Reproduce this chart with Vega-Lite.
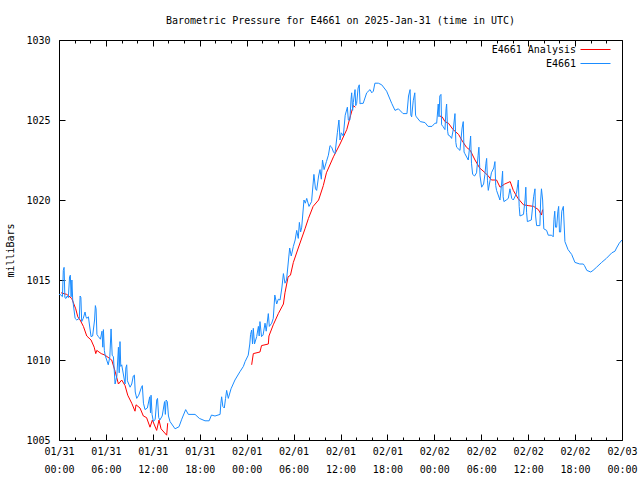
{
  "$schema": "https://vega.github.io/schema/vega-lite/v6.json",
  "width": 563,
  "height": 400,
  "autosize": "none",
  "padding": {"left": 59, "top": 40, "right": 18, "bottom": 40},
  "background": "white",
  "title": {"text": "Barometric Pressure for E4661 on 2025-Jan-31 (time in UTC)", "font": "DejaVu Sans Mono", "fontSize": 10, "fontWeight": "normal", "color": "black", "offset": 9},
  "config": {
    "view": {"stroke": "black", "strokeWidth": 1},
    "axis": {"labelFont": "DejaVu Sans Mono", "labelFontSize": 10, "labelColor": "black", "titleFont": "DejaVu Sans Mono", "titleFontSize": 10, "titleFontWeight": "normal", "titleColor": "black", "ticks": true, "tickColor": "black", "tickWidth": 1, "tickOpacity": 1, "domain": false, "grid": false},
    "legend": {"orient": "none", "legendX": 531, "legendY": 4, "title": null, "labelFont": "DejaVu Sans Mono", "labelFontSize": 10, "labelColor": "black", "symbolType": "M-3,0H3", "symbolSize": 100, "symbolStrokeWidth": 1, "labelAlign": "right", "labelOffset": -25, "rowPadding": 3, "padding": 0}
  },
  "datasets": {
    "obs": [
      {"h":0.0,"p":1014.1},{"h":0.14,"p":1014.1},{"h":0.44,"p":1013.96},{"h":0.55,"p":1015.6},{"h":0.65,"p":1015.79},{"h":0.75,"p":1013.9},{"h":0.9,"p":1013.85},{"h":1.05,"p":1014.0},{"h":1.2,"p":1013.9},{"h":1.35,"p":1015.2},{"h":1.45,"p":1015.3},{"h":1.55,"p":1013.95},{"h":1.65,"p":1015.0},{"h":1.75,"p":1013.8},{"h":2.06,"p":1012.6},{"h":2.27,"p":1012.5},{"h":2.6,"p":1012.6},{"h":2.7,"p":1014.0},{"h":2.8,"p":1013.9},{"h":2.9,"p":1012.4},{"h":3.1,"p":1012.6},{"h":3.33,"p":1013.0},{"h":3.45,"p":1012.7},{"h":3.55,"p":1012.6},{"h":3.76,"p":1012.7},{"h":4.1,"p":1011.46},{"h":4.3,"p":1011.5},{"h":4.55,"p":1012.5},{"h":4.65,"p":1013.4},{"h":4.74,"p":1013.2},{"h":4.85,"p":1011.6},{"h":5.04,"p":1011.46},{"h":5.3,"p":1011.3},{"h":5.5,"p":1011.8},{"h":5.6,"p":1010.8},{"h":5.68,"p":1011.9},{"h":5.8,"p":1010.6},{"h":5.9,"p":1010.3},{"h":6.3,"p":1009.7},{"h":6.5,"p":1010.2},{"h":6.66,"p":1011.94},{"h":6.8,"p":1010.3},{"h":6.96,"p":1010.2},{"h":7.17,"p":1008.5},{"h":7.4,"p":1009.0},{"h":7.6,"p":1010.8},{"h":7.7,"p":1009.2},{"h":7.8,"p":1011.15},{"h":7.9,"p":1009.6},{"h":8.02,"p":1009.7},{"h":8.45,"p":1008.5},{"h":8.55,"p":1009.5},{"h":8.66,"p":1009.7},{"h":8.75,"p":1008.7},{"h":9.09,"p":1008.3},{"h":9.3,"p":1008.5},{"h":9.5,"p":1009.0},{"h":9.64,"p":1009.06},{"h":9.75,"p":1008.0},{"h":9.94,"p":1007.6},{"h":10.2,"p":1007.8},{"h":10.55,"p":1008.3},{"h":10.66,"p":1008.4},{"h":10.8,"p":1007.3},{"h":11.0,"p":1006.9},{"h":11.3,"p":1007.0},{"h":11.6,"p":1007.7},{"h":11.7,"p":1006.7},{"h":11.77,"p":1007.8},{"h":11.9,"p":1006.6},{"h":12.07,"p":1006.15},{"h":12.3,"p":1006.3},{"h":12.5,"p":1007.5},{"h":12.6,"p":1007.6},{"h":12.75,"p":1006.4},{"h":12.9,"p":1006.25},{"h":13.2,"p":1006.5},{"h":13.5,"p":1007.4},{"h":13.6,"p":1006.6},{"h":13.7,"p":1007.5},{"h":13.85,"p":1007.4},{"h":14.0,"p":1006.5},{"h":14.2,"p":1006.15},{"h":14.84,"p":1005.7},{"h":15.35,"p":1005.83},{"h":15.7,"p":1006.3},{"h":16.2,"p":1006.9},{"h":16.54,"p":1006.6},{"h":17.4,"p":1006.6},{"h":17.95,"p":1006.35},{"h":18.67,"p":1006.2},{"h":19.2,"p":1006.2},{"h":19.5,"p":1006.56},{"h":19.95,"p":1006.5},{"h":20.6,"p":1006.6},{"h":20.7,"p":1007.3},{"h":20.8,"p":1007.7},{"h":20.95,"p":1007.1},{"h":21.14,"p":1007.0},{"h":21.3,"p":1007.6},{"h":21.44,"p":1008.1},{"h":21.65,"p":1007.6},{"h":22.0,"p":1008.2},{"h":22.5,"p":1008.75},{"h":23.14,"p":1009.27},{"h":23.58,"p":1009.6},{"h":23.8,"p":1009.9},{"h":24.2,"p":1010.3},{"h":24.4,"p":1011.0},{"h":24.5,"p":1011.6},{"h":24.64,"p":1011.87},{"h":24.75,"p":1011.0},{"h":24.85,"p":1011.98},{"h":25.0,"p":1011.0},{"h":25.28,"p":1011.46},{"h":25.5,"p":1012.1},{"h":25.6,"p":1011.5},{"h":25.7,"p":1012.4},{"h":25.9,"p":1011.46},{"h":26.1,"p":1011.56},{"h":26.35,"p":1012.3},{"h":26.5,"p":1011.8},{"h":26.77,"p":1012.9},{"h":26.9,"p":1012.1},{"h":27.2,"p":1012.3},{"h":27.4,"p":1012.6},{"h":27.6,"p":1014.06},{"h":27.84,"p":1013.5},{"h":28.05,"p":1013.8},{"h":28.27,"p":1013.75},{"h":28.5,"p":1014.5},{"h":28.7,"p":1015.4},{"h":28.9,"p":1014.8},{"h":29.1,"p":1015.0},{"h":29.5,"p":1017.0},{"h":29.7,"p":1016.5},{"h":29.97,"p":1017.1},{"h":30.2,"p":1017.5},{"h":30.4,"p":1018.1},{"h":30.6,"p":1017.6},{"h":30.74,"p":1018.6},{"h":30.9,"p":1018.0},{"h":31.04,"p":1018.3},{"h":31.33,"p":1020.0},{"h":31.5,"p":1019.8},{"h":31.68,"p":1020.1},{"h":31.97,"p":1019.6},{"h":32.3,"p":1019.9},{"h":32.6,"p":1021.6},{"h":32.8,"p":1020.7},{"h":32.95,"p":1020.6},{"h":33.2,"p":1021.5},{"h":33.38,"p":1021.9},{"h":33.55,"p":1021.3},{"h":33.7,"p":1022.5},{"h":33.9,"p":1021.9},{"h":34.2,"p":1022.4},{"h":34.45,"p":1022.8},{"h":34.66,"p":1023.4},{"h":34.87,"p":1023.3},{"h":35.1,"p":1023.0},{"h":35.3,"p":1022.9},{"h":35.6,"p":1024.2},{"h":35.8,"p":1025.0},{"h":35.94,"p":1023.75},{"h":36.1,"p":1024.2},{"h":36.36,"p":1024.0},{"h":36.6,"p":1025.3},{"h":36.88,"p":1025.8},{"h":37.0,"p":1025.0},{"h":37.2,"p":1025.0},{"h":37.35,"p":1026.3},{"h":37.43,"p":1026.7},{"h":37.55,"p":1025.6},{"h":37.64,"p":1026.1},{"h":37.86,"p":1026.9},{"h":37.95,"p":1025.9},{"h":38.07,"p":1026.04},{"h":38.25,"p":1027.0},{"h":38.4,"p":1027.2},{"h":38.5,"p":1026.0},{"h":38.6,"p":1026.04},{"h":38.9,"p":1026.04},{"h":39.35,"p":1026.7},{"h":39.78,"p":1026.9},{"h":40.0,"p":1026.7},{"h":40.2,"p":1026.8},{"h":40.4,"p":1027.3},{"h":40.84,"p":1027.3},{"h":41.27,"p":1027.2},{"h":41.9,"p":1026.8},{"h":42.55,"p":1026.04},{"h":42.97,"p":1025.6},{"h":43.4,"p":1025.7},{"h":44.0,"p":1025.4},{"h":44.5,"p":1025.4},{"h":44.7,"p":1026.5},{"h":44.9,"p":1026.9},{"h":45.0,"p":1025.3},{"h":45.1,"p":1025.2},{"h":45.3,"p":1026.2},{"h":45.5,"p":1026.7},{"h":45.6,"p":1025.3},{"h":45.7,"p":1025.2},{"h":46.2,"p":1024.9},{"h":46.8,"p":1024.84},{"h":47.2,"p":1024.6},{"h":47.7,"p":1024.6},{"h":48.08,"p":1024.8},{"h":48.3,"p":1024.8},{"h":48.5,"p":1026.0},{"h":48.6,"p":1025.2},{"h":48.7,"p":1026.5},{"h":48.85,"p":1026.6},{"h":48.93,"p":1024.7},{"h":49.1,"p":1024.6},{"h":49.36,"p":1024.4},{"h":49.5,"p":1025.7},{"h":49.57,"p":1026.0},{"h":49.7,"p":1024.3},{"h":49.78,"p":1024.06},{"h":50.0,"p":1024.0},{"h":50.21,"p":1023.85},{"h":50.42,"p":1024.4},{"h":50.55,"p":1025.0},{"h":50.64,"p":1025.4},{"h":50.75,"p":1023.6},{"h":50.85,"p":1023.3},{"h":51.28,"p":1023.1},{"h":51.55,"p":1024.5},{"h":51.7,"p":1024.9},{"h":51.8,"p":1023.0},{"h":51.9,"p":1022.9},{"h":52.34,"p":1022.5},{"h":52.55,"p":1023.5},{"h":52.64,"p":1024.0},{"h":52.75,"p":1022.3},{"h":52.9,"p":1021.6},{"h":53.15,"p":1021.5},{"h":53.4,"p":1021.7},{"h":53.6,"p":1022.8},{"h":53.7,"p":1023.3},{"h":53.85,"p":1021.5},{"h":54.05,"p":1020.8},{"h":54.3,"p":1021.0},{"h":54.47,"p":1021.6},{"h":54.6,"p":1022.3},{"h":54.69,"p":1022.6},{"h":54.8,"p":1021.2},{"h":54.9,"p":1020.6},{"h":55.3,"p":1021.7},{"h":55.6,"p":1022.0},{"h":55.75,"p":1022.4},{"h":55.85,"p":1020.9},{"h":55.96,"p":1020.6},{"h":56.39,"p":1020.0},{"h":56.6,"p":1021.0},{"h":56.73,"p":1021.8},{"h":56.8,"p":1020.2},{"h":56.9,"p":1019.9},{"h":57.2,"p":1020.0},{"h":57.46,"p":1020.1},{"h":57.67,"p":1020.7},{"h":57.9,"p":1020.1},{"h":58.1,"p":1020.0},{"h":58.5,"p":1020.4},{"h":58.74,"p":1021.25},{"h":58.85,"p":1019.6},{"h":58.95,"p":1019.0},{"h":59.4,"p":1019.1},{"h":59.6,"p":1020.0},{"h":59.7,"p":1020.8},{"h":59.8,"p":1019.2},{"h":59.9,"p":1018.65},{"h":60.4,"p":1018.75},{"h":60.7,"p":1020.2},{"h":60.87,"p":1020.7},{"h":60.95,"p":1019.0},{"h":61.08,"p":1018.4},{"h":61.5,"p":1018.4},{"h":61.6,"p":1020.0},{"h":61.7,"p":1020.7},{"h":61.85,"p":1020.0},{"h":62.0,"p":1018.2},{"h":62.36,"p":1018.1},{"h":62.57,"p":1017.8},{"h":63.0,"p":1017.8},{"h":63.2,"p":1017.7},{"h":63.3,"p":1018.8},{"h":63.4,"p":1019.3},{"h":63.5,"p":1018.3},{"h":63.64,"p":1018.3},{"h":63.8,"p":1019.3},{"h":63.9,"p":1019.6},{"h":64.0,"p":1018.0},{"h":64.15,"p":1018.0},{"h":64.3,"p":1019.3},{"h":64.5,"p":1019.6},{"h":64.6,"p":1018.5},{"h":64.7,"p":1017.4},{"h":65.1,"p":1016.9},{"h":65.56,"p":1016.6},{"h":65.98,"p":1016.1},{"h":66.6,"p":1016.0},{"h":67.05,"p":1016.0},{"h":67.2,"p":1015.9},{"h":67.5,"p":1015.6},{"h":68.0,"p":1015.5},{"h":68.3,"p":1015.6},{"h":68.75,"p":1015.8},{"h":69.4,"p":1016.1},{"h":70.0,"p":1016.35},{"h":70.7,"p":1016.7},{"h":71.1,"p":1016.8},{"h":71.3,"p":1017.0},{"h":71.65,"p":1017.3},{"h":72.0,"p":1017.5}
    ],
    "ana": [
      {"g":1,"h":0.27,"p":1014.2},{"g":1,"h":0.99,"p":1014.1},{"g":1,"h":1.63,"p":1013.85},{"g":1,"h":1.9,"p":1013.5},{"g":1,"h":2.14,"p":1013.2},{"g":1,"h":2.4,"p":1012.7},{"g":1,"h":2.7,"p":1012.5},{"g":1,"h":3.12,"p":1012.1},{"g":1,"h":3.55,"p":1011.5},{"g":1,"h":4.1,"p":1011.25},{"g":1,"h":4.5,"p":1010.8},{"g":1,"h":4.7,"p":1010.4},{"g":1,"h":4.83,"p":1010.6},{"g":1,"h":5.4,"p":1010.4},{"g":1,"h":5.9,"p":1010.3},{"g":1,"h":6.74,"p":1010.0},{"g":1,"h":7.17,"p":1009.3},{"g":1,"h":7.6,"p":1008.5},{"g":1,"h":8.02,"p":1008.75},{"g":1,"h":8.45,"p":1008.4},{"g":1,"h":8.79,"p":1007.8},{"g":1,"h":9.3,"p":1007.3},{"g":1,"h":9.72,"p":1006.8},{"g":1,"h":9.85,"p":1007.2},{"g":1,"h":10.36,"p":1007.0},{"g":1,"h":10.79,"p":1006.5},{"g":1,"h":11.2,"p":1006.4},{"g":1,"h":11.64,"p":1005.8},{"g":1,"h":11.94,"p":1006.25},{"g":1,"h":12.49,"p":1005.6},{"g":1,"h":12.79,"p":1006.25},{"g":1,"h":13.05,"p":1005.7},{"g":1,"h":13.77,"p":1005.3},{"g":1,"h":13.9,"p":1006.05},
      {"g":2,"h":24.64,"p":1009.7},{"g":2,"h":24.85,"p":1010.4},{"g":2,"h":25.7,"p":1010.5},{"g":2,"h":25.9,"p":1010.9},{"g":2,"h":26.77,"p":1011.0},{"g":2,"h":26.85,"p":1011.5},{"g":2,"h":27.4,"p":1012.2},{"g":2,"h":28.05,"p":1012.9},{"g":2,"h":28.7,"p":1013.5},{"g":2,"h":28.9,"p":1014.2},{"g":2,"h":29.3,"p":1015.2},{"g":2,"h":29.6,"p":1015.3},{"g":2,"h":29.97,"p":1016.1},{"g":2,"h":30.6,"p":1017.0},{"g":2,"h":31.46,"p":1018.2},{"g":2,"h":31.9,"p":1018.85},{"g":2,"h":32.5,"p":1019.6},{"g":2,"h":33.2,"p":1020.0},{"g":2,"h":33.8,"p":1020.9},{"g":2,"h":34.2,"p":1021.7},{"g":2,"h":35.1,"p":1022.7},{"g":2,"h":35.94,"p":1023.5},{"g":2,"h":36.8,"p":1024.4},{"g":2,"h":37.3,"p":1025.3},{"g":2,"h":37.64,"p":1025.9},{"g":2,"h":37.9,"p":1025.8},
      {"g":3,"h":48.7,"p":1025.25},{"g":3,"h":49.0,"p":1025.2},{"g":3,"h":49.36,"p":1024.9},{"g":3,"h":49.8,"p":1024.8},{"g":3,"h":50.4,"p":1024.4},{"g":3,"h":51.1,"p":1024.1},{"g":3,"h":51.5,"p":1023.75},{"g":3,"h":52.1,"p":1023.3},{"g":3,"h":52.6,"p":1023.1},{"g":3,"h":53.2,"p":1022.5},{"g":3,"h":53.8,"p":1022.0},{"g":3,"h":54.5,"p":1021.7},{"g":3,"h":54.9,"p":1021.5},{"g":3,"h":55.3,"p":1021.25},{"g":3,"h":55.96,"p":1021.25},{"g":3,"h":56.4,"p":1020.8},{"g":3,"h":57.0,"p":1021.0},{"g":3,"h":57.7,"p":1021.15},{"g":3,"h":58.1,"p":1020.6},{"g":3,"h":58.7,"p":1020.1},{"g":3,"h":59.4,"p":1019.7},{"g":3,"h":60.0,"p":1019.65},{"g":3,"h":60.7,"p":1019.6},{"g":3,"h":61.3,"p":1019.4},{"g":3,"h":61.7,"p":1019.06},{"g":3,"h":61.85,"p":1019.4}
    ]
  },
  "layer": [
    {
      "data": {"name": "ana"},
      "mark": {"type": "line", "strokeWidth": 1},
      "encoding": {
        "x": {"field": "h", "type": "quantitative", "scale": {"domain": [0, 72], "nice": false, "zero": false},
              "axis": {"orient": "top", "title": null, "labels": false, "values": [0,6,12,18,24,30,36,42,48,54,60,66,72], "tickSize": 6, "offset": -6}},
        "y": {"field": "p", "type": "quantitative", "scale": {"domain": [1005, 1030], "nice": false, "zero": false},
              "axis": {"orient": "right", "title": null, "labels": false, "values": [1005,1010,1015,1020,1025,1030], "tickSize": 6, "offset": -6}},
        "color": {"datum": "E4661 Analysis", "type": "nominal", "scale": {"domain": ["E4661 Analysis", "E4661"], "range": ["#ff0000", "#1a8cff"]}},
        "detail": {"field": "g", "type": "nominal"}
      }
    },
    {
      "data": {"name": "obs"},
      "mark": {"type": "line", "strokeWidth": 1},
      "encoding": {
        "x": {"field": "h", "type": "quantitative",
              "axis": {"orient": "bottom", "title": null, "values": [0,6,12,18,24,30,36,42,48,54,60,66,72], "tickSize": 6, "offset": -6,
                       "labelPadding": 6, "labelLineHeight": 18, "labelBaseline": "top", "labelFlush": false, "labelOverlap": false,
                       "labelExpr": "[['01/31','02/01','02/02','02/03'][floor(datum.value / 24)], (datum.value % 24 < 10 ? '0' : '') + (datum.value % 24) + ':00']"}},
        "y": {"field": "p", "type": "quantitative",
              "axis": {"orient": "left", "title": "milliBars", "format": "d", "values": [1005,1010,1015,1020,1025,1030], "tickSize": 6, "offset": -6, "labelPadding": 9, "titlePadding": 10, "titleY": 210}},
        "color": {"datum": "E4661", "type": "nominal"}
      }
    },
    {
      "data": {"name": "obs"},
      "mark": {"type": "line", "opacity": 0},
      "encoding": {
        "x": {"field": "h", "type": "quantitative",
              "axis": {"orient": "bottom", "title": null, "labels": false, "values": [2,4,8,10,14,16,20,22,26,28,32,34,38,40,44,46,50,52,56,58,62,64,68,70], "tickSize": 3, "offset": -3}},
        "y": {"field": "p", "type": "quantitative", "axis": null}
      }
    },
    {
      "data": {"name": "obs"},
      "mark": {"type": "line", "opacity": 0},
      "encoding": {
        "x": {"field": "h", "type": "quantitative",
              "axis": {"orient": "top", "title": null, "labels": false, "values": [2,4,8,10,14,16,20,22,26,28,32,34,38,40,44,46,50,52,56,58,62,64,68,70], "tickSize": 3, "offset": -3}},
        "y": {"field": "p", "type": "quantitative", "axis": null}
      }
    }
  ],
  "resolve": {"axis": {"x": "independent", "y": "independent"}}
}
